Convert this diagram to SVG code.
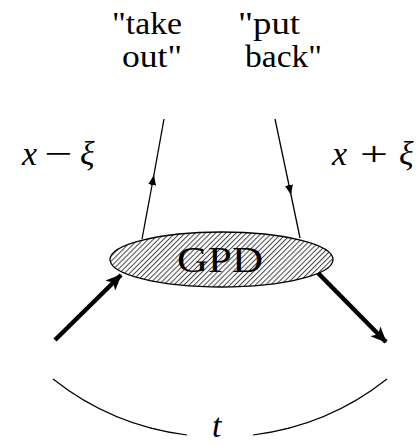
<svg xmlns="http://www.w3.org/2000/svg" width="418" height="445" viewBox="0 0 418 445">
<style>
.lbl{font-family:'Liberation Serif','DejaVu Serif',serif;font-size:32px;fill:#000}
.math{font-family:'Liberation Serif','DejaVu Serif',serif;font-size:34px;font-style:italic;fill:#000}
.op{font-family:'Liberation Serif','DejaVu Serif',serif;font-size:34px;fill:#000}
.thin{stroke:#000;stroke-width:1.3;fill:none}
.thick{stroke:#000;stroke-width:4.5;fill:none}
.arc{stroke:#000;stroke-width:1.2;fill:none}
</style>
<defs>
<pattern id="hatch" patternUnits="userSpaceOnUse" width="3.6" height="3.6" patternTransform="rotate(45)">
<rect width="3.6" height="3.6" fill="#fff"/>
<line x1="0.5" y1="0" x2="0.5" y2="3.6" stroke="#444" stroke-width="1"/>
</pattern>
<marker id="thinArrow" viewBox="0 0 10 8" refX="5" refY="4" markerWidth="10" markerHeight="8" markerUnits="userSpaceOnUse" orient="auto">
<path d="M0,0 L10,4 L0,8 Z" fill="#000"/>
</marker>
<marker id="thickArrow" viewBox="0 0 16 14" refX="15" refY="7" markerWidth="16" markerHeight="14" markerUnits="userSpaceOnUse" orient="auto">
<path d="M0,0 L16,7 L0,14 L4,7 Z" fill="#000"/>
</marker>
</defs>

<g id="labels">
<text class="lbl" x="112" y="34" textLength="70" lengthAdjust="spacingAndGlyphs">"take</text>
<text class="lbl" x="122" y="67" textLength="60" lengthAdjust="spacingAndGlyphs">out"</text>
<text class="lbl" x="238" y="34" textLength="62" lengthAdjust="spacingAndGlyphs">"put</text>
<text class="lbl" x="245" y="67" textLength="77" lengthAdjust="spacingAndGlyphs">back"</text>
</g>

<g id="xminus">
<text class="math" x="22" y="165">x</text>
<text class="op" x="44" y="165" textLength="28" lengthAdjust="spacingAndGlyphs">−</text>
<text class="math" x="80" y="165">ξ</text>
</g>
<g id="xplus">
<text class="math" x="332" y="165">x</text>
<text class="op" x="360" y="165" textLength="28" lengthAdjust="spacingAndGlyphs">+</text>
<text class="math" x="399" y="165">ξ</text>
</g>

<g id="connectors">
<path class="thin" d="M142,239 L153,180" marker-end="url(#thinArrow)"/>
<path class="thin" d="M153,180 L164,119"/>
<path class="thin" d="M275,119 L290,190" marker-end="url(#thinArrow)"/>
<path class="thin" d="M290,190 L300,238"/>
<path class="thick" d="M55,340 L121,275" marker-end="url(#thickArrow)"/>
<path class="thick" d="M318,273 L386,342" marker-end="url(#thickArrow)"/>
</g>

<g id="gpd">
<ellipse cx="221.5" cy="259.5" rx="111.5" ry="27.5" fill="url(#hatch)" stroke="#000" stroke-width="1.3"/>
<text class="lbl" x="220" y="272" text-anchor="middle" textLength="86" lengthAdjust="spacingAndGlyphs" style="font-size:36px">GPD</text>
</g>

<g id="t-arc">
<path class="arc" d="M53,379 A269.4,269.4 0 0 0 187,435"/>
<path class="arc" d="M253,435 A269.4,269.4 0 0 0 387,379"/>
<text class="math" x="212" y="437" style="font-size:34px">t</text>
</g>
</svg>
